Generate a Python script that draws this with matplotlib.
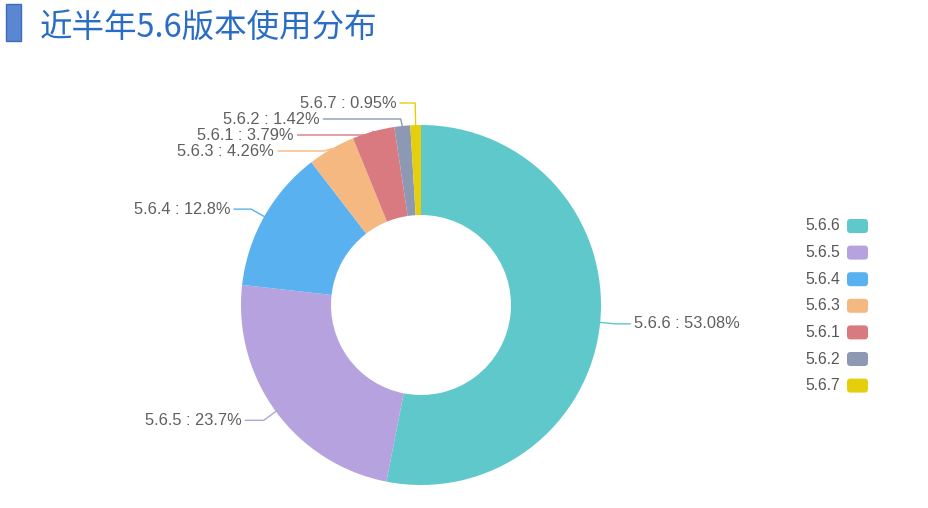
import numpy as np
import matplotlib.pyplot as plt
from matplotlib.patches import Rectangle, FancyBboxPatch

plt.rcParams["font.family"] = ["Noto Sans CJK SC", "DejaVu Sans"]

title = "近半年5.6版本使用分布"
versions = ["5.6.6", "5.6.5", "5.6.4", "5.6.3", "5.6.1", "5.6.2", "5.6.7"]
shares = [53.08, 23.7, 12.8, 4.26, 3.79, 1.42, 0.95]
share_text = ["53.08%", "23.7%", "12.8%", "4.26%", "3.79%", "1.42%", "0.95%"]
colors = ["#5ec8ca", "#b6a2de", "#5ab1ef", "#f5b880", "#d87a80", "#8d98b3", "#e5cf0d"]

W, H = 929, 508
cx, cy = 421, H - 305
R = 180
L1, L2 = 15, 15
GAP = 16
LABEL_FONT = ["Liberation Sans", "DejaVu Sans"]


def spread(ys, top):
    # keep labels on one side apart by GAP, top to bottom (ys are screen y)
    order = np.argsort(ys)
    z = [ys[k] - i * GAP for i, k in enumerate(order)]
    blocks = []
    for v in z:
        blocks.append([v, 1])
        while len(blocks) > 1 and blocks[-2][0] > blocks[-1][0]:
            v2, n2 = blocks.pop()
            v1, n1 = blocks.pop()
            blocks.append([(v1 * n1 + v2 * n2) / (n1 + n2), n1 + n2])
    zz = []
    for v, n in blocks:
        zz += [max(v, top)] * n
    out = np.empty(len(ys))
    for i, k in enumerate(order):
        out[k] = zz[i] + i * GAP
    return out


fig = plt.figure(figsize=(W / 100, H / 100), dpi=100)
ax = fig.add_axes([0, 0, 1, 1])

wedges, _ = ax.pie(
    shares,
    colors=colors,
    startangle=90,
    counterclock=False,
    radius=R,
    center=(cx, cy),
    wedgeprops=dict(width=R / 2, linewidth=0),
)
ax.set_xlim(0, W)
ax.set_ylim(0, H)
ax.set_aspect("equal")
ax.axis("off")

# label layout (echarts-like: shift overlapping labels, then move x along a circle)
mids = np.array([np.deg2rad((w.theta1 + w.theta2) / 2) for w in wedges])
right = np.cos(mids) >= 0
nat_y = H - (cy + (R + L1) * np.sin(mids))  # screen y
lab_y = nat_y.copy()
for side in (right, ~right):
    idx = np.where(side)[0]
    lab_y[idx] = spread(nat_y[idx], (H - cy) - R - 22)

for i, w in enumerate(wedges):
    a = mids[i]
    sgn = 1 if right[i] else -1
    x0, y0 = cx + R * np.cos(a), cy + R * np.sin(a)
    x1, y1 = cx + (R + L1) * np.cos(a), H - lab_y[i]
    dy = abs(y1 - cy)
    if dy < R + L1:
        x2 = cx + sgn * np.sqrt((R + L1 + L2) ** 2 - dy ** 2)
    else:
        x2 = x1 + sgn * L2
    ax.plot([x0, x1, x2], [y0, y1, y1], color=colors[i], lw=1, solid_joinstyle="round")
    ax.text(x2 + sgn * 4, y1, f"{versions[i]} : {share_text[i]}",
            ha="left" if right[i] else "right", va="center",
            fontsize=11.8, color="#5f5f5f", family=LABEL_FONT)

# legend
leg_top, pitch = 226, 26.6
for i, v in enumerate(versions):
    yy = H - (leg_top + i * pitch)
    ax.add_patch(FancyBboxPatch((847, yy - 7), 21, 14,
                                boxstyle="round,pad=0,rounding_size=3.5",
                                fc=colors[i], ec="none"))
    ax.text(840, yy, v, ha="right", va="center", fontsize=11.3,
            color="#555555", family=LABEL_FONT)

# title
ax.add_patch(Rectangle((6, H - 41), 15, 37, fc="#5a87d2", ec="#3f6cb9", lw=1))
ax.text(40, H - 27.5, title, ha="left", va="center", fontsize=23.4, color="#2a6dc5")

fig.savefig("out.png", dpi=100)
